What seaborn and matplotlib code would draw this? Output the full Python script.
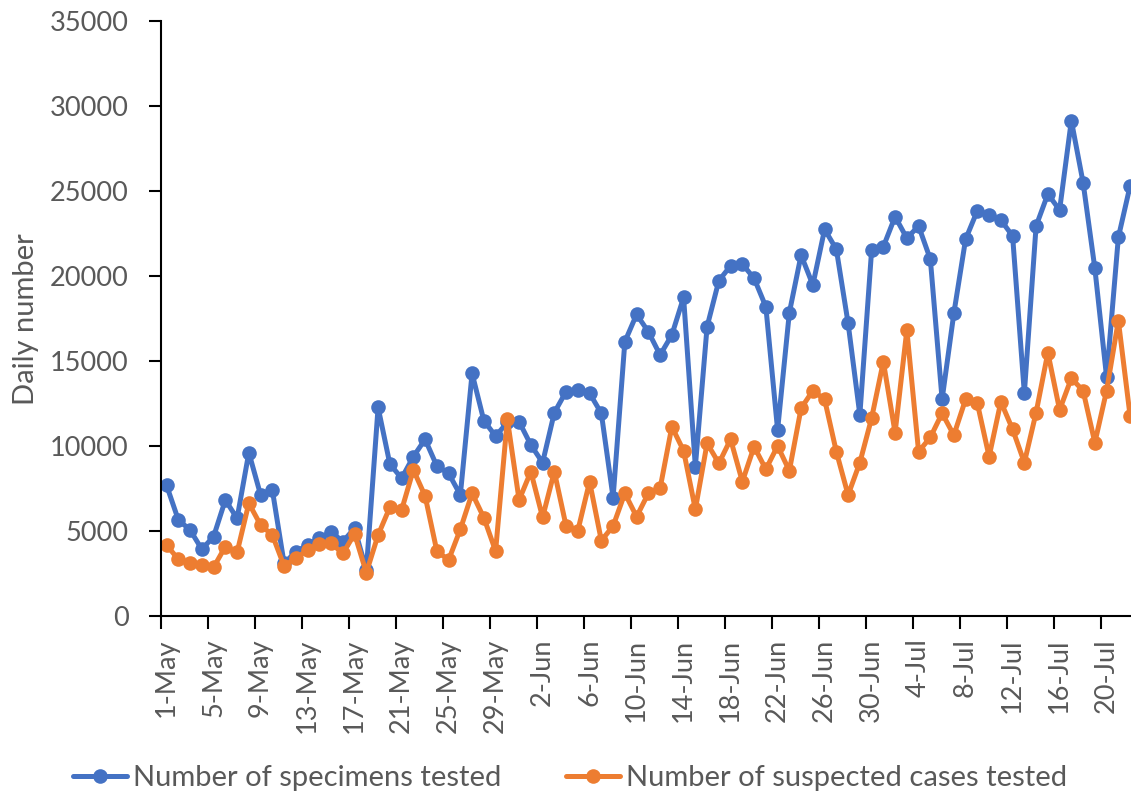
import matplotlib
matplotlib.use("Agg")
import matplotlib.pyplot as plt
import seaborn as sns
import pandas as pd
import numpy as np

# ---- data ----
dates = pd.date_range("2020-05-01", "2020-07-22", freq="D")
date_labels = [f"{d.day}-{d.strftime('%b')}" for d in dates]

specimens = [7700, 5670, 5080, 3940, 4690, 6840, 5760, 9630, 7140, 7430,
             3110, 3800, 4190, 4590, 4980, 4390, 5180, 2720, 12290, 8960,
             8120, 9390, 10410, 8840, 8410, 7140, 14290, 11510, 10600, 11400,
             11450, 10080, 9040, 11980, 13220, 13310, 13120, 11940, 6980, 16150,
             17760, 16740, 15370, 16550, 18760, 8800, 17040, 19740, 20620, 20720,
             19880, 18210, 10960, 17860, 21250, 19490, 22760, 21590, 17240, 11850,
             21520, 21740, 23510, 22240, 22960, 21000, 12760, 17820, 22180, 23860,
             23610, 23310, 22370, 13120, 22960, 24840, 23900, 29160, 25510, 20470,
             14060, 22290, 25320]

suspected = [4190, 3350, 3150, 3020, 2880, 4100, 3760, 6650, 5370, 4780,
             2960, 3410, 3900, 4235, 4290, 3700, 4840, 2565, 4780, 6410,
             6250, 8610, 7080, 3840, 3310, 5115, 7235, 5800, 3840, 11600,
             6840, 8510, 5820, 8510, 5310, 5040, 7920, 4450, 5310, 7235,
             5860, 7235, 7530, 11150, 9740, 6290, 10180, 9000, 10410, 7920,
             9980, 8650, 10020, 8560, 12240, 13270, 12760, 9680, 7135, 9040,
             11650, 14980, 10800, 16840, 9680, 10530, 11940, 10660, 12760, 12530,
             9390, 12620, 11000, 9040, 11980, 15510, 12140, 14000, 13270, 10210,
             13270, 17390, 11780]

series_names = ["Number of specimens tested", "Number of suspected cases tested"]
colors = ["#4472C4", "#ED7D31"]

df = pd.DataFrame({
    "idx": list(range(len(dates))) * 2,
    "value": specimens + suspected,
    "series": [series_names[0]] * len(dates) + [series_names[1]] * len(dates),
})

# ---- plot ----
sns.set_theme(style="white")
plt.rcParams["font.family"] = ["Lato", "DejaVu Sans"]
grey = "#595959"

fig = plt.figure(figsize=(11.31, 7.95), dpi=100)
ax = fig.add_axes([0.1421, 0.2248, 0.8623, 0.7484])

sns.lineplot(data=df, x="idx", y="value", hue="series", palette=colors,
             marker="o", markersize=10.5, linewidth=3.6, markeredgewidth=0,
             sort=False, ax=ax, legend=True)

n = len(dates)
ax.set_xlim(-0.5, n - 0.5)
ax.set_ylim(0, 35000)
ax.set_yticks(np.arange(0, 35001, 5000))
ax.tick_params(axis="y", left=True, labelsize=19.5, labelcolor=grey,
               color="black", length=9, width=1.5, direction="out", pad=14)

# tick marks at category boundaries, labels at category centres
major_pos = np.arange(-0.5, n, 4)
ax.set_xticks(major_pos, minor=False)
ax.set_xticklabels([""] * len(major_pos))
ax.set_xticks(np.arange(0, n, 4), minor=True)
ax.set_xticklabels([date_labels[i] for i in range(0, n, 4)], minor=True,
                   rotation=90)
ax.tick_params(axis="x", which="major", bottom=True, length=9, width=1.5,
               color="black", direction="out")
ax.tick_params(axis="x", which="minor", bottom=True, length=0, labelsize=19.5,
               labelcolor=grey, pad=16)

for side in ["top", "right"]:
    ax.spines[side].set_visible(False)
for side in ["left", "bottom"]:
    ax.spines[side].set_color("black")
    ax.spines[side].set_linewidth(1.5)

ax.set_xlabel("")
ax.set_ylabel("Daily number", fontsize=21, color=grey, labelpad=8)
ax.grid(False)

handles, labels = ax.get_legend_handles_labels()
ax.legend_.remove()
fig.legend(handles, labels, loc="center", bbox_to_anchor=(0.504, 0.021),
           ncol=2, frameon=False, fontsize=21, labelcolor=grey,
           handlelength=1.85, handletextpad=0.2, columnspacing=2.2)

fig.savefig("out.png", dpi=100)
